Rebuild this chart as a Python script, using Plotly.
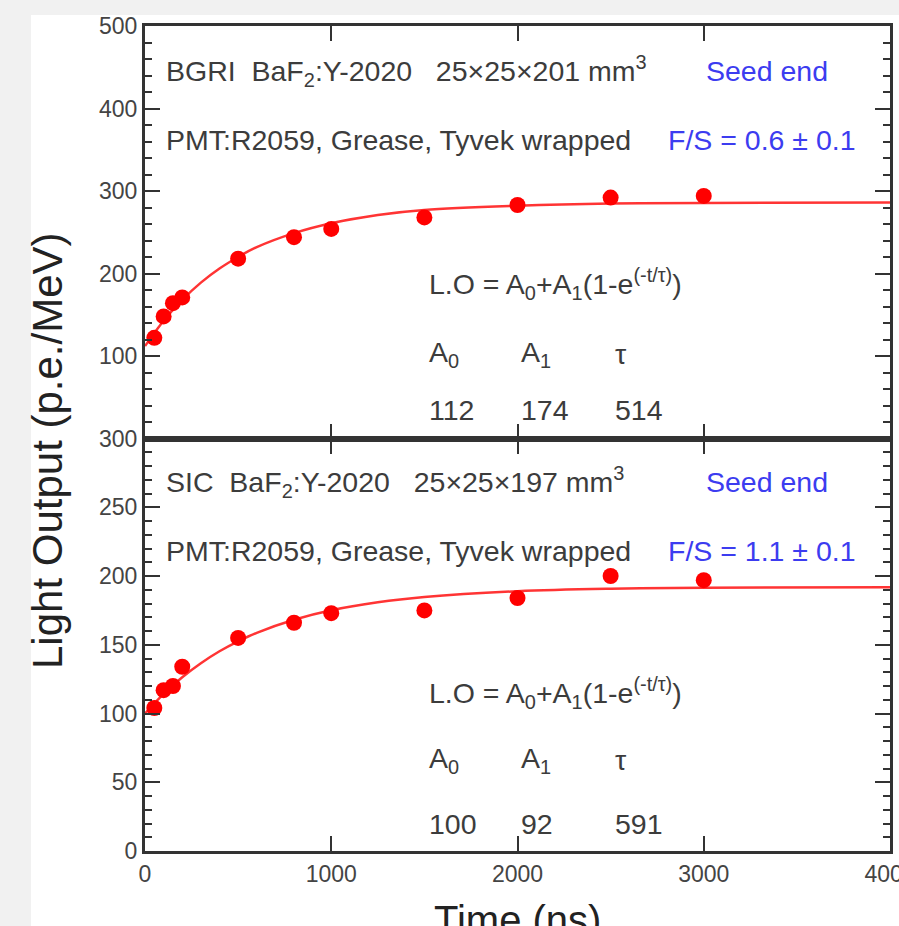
import plotly.graph_objects as go
from plotly.subplots import make_subplots

# ---- data ----
time_ns = [50, 100, 150, 200, 500, 800, 1000, 1500, 2000, 2500, 3000]
bgri_lo = [122, 148, 164, 171, 218, 244, 254, 268, 283, 292, 294]
sic_lo = [104, 117, 120, 134, 155, 166, 173, 175, 184, 200, 197]

fit_t = [0, 100, 200, 300, 400, 500, 600, 800, 1000, 1250, 1500, 2000, 2500, 3000, 4000]
bgri_fit = [112, 142.8, 168, 188.9, 206, 220, 232, 249, 261, 271, 277, 282, 284.7, 285.5, 286]
sic_fit = [100, 114.3, 126.4, 136.6, 145.3, 152.5, 158.7, 168.2, 175.1, 180.9, 184.7, 188.9, 190.7, 191.4, 191.9]

x_ticks = [0, 1000, 2000, 3000, 4000]
top_y_ticks = [100, 200, 300, 400, 500]
bot_y_ticks = [0, 50, 100, 150, 200, 250, 300]

top_params = ["112", "174", "514"]
bot_params = ["100", "92", "591"]

FONT = "Arial, Liberation Sans, sans-serif"
TXT = "#3c3c3c"
BLUE = "#3c3cf0"
RED = "#ff0000"
TS = 28.5

fig = make_subplots(rows=2, cols=1, shared_xaxes=True, vertical_spacing=0)

line_style = dict(color="rgba(255,30,30,0.9)", width=2.5, shape="spline")
fig.add_trace(go.Scatter(x=fit_t, y=bgri_fit, mode="lines", line=line_style, showlegend=False), row=1, col=1)
fig.add_trace(go.Scatter(x=time_ns, y=bgri_lo, mode="markers", marker=dict(color=RED, size=16), showlegend=False), row=1, col=1)
fig.add_trace(go.Scatter(x=fit_t, y=sic_fit, mode="lines", line=line_style, showlegend=False), row=2, col=1)
fig.add_trace(go.Scatter(x=time_ns, y=sic_lo, mode="markers", marker=dict(color=RED, size=16), showlegend=False), row=2, col=1)

axis_common = dict(showline=True, linewidth=3, linecolor="#333333", mirror="allticks",
                   ticks="inside", ticklen=15, tickwidth=2, tickcolor="#333333",
                   showgrid=False, zeroline=False, ticklabeloverflow="allow", automargin=False,
                   tickfont=dict(family=FONT, size=23, color="#444444"))

fig.update_xaxes(range=[0, 4000], tickvals=x_ticks, **axis_common)
fig.update_xaxes(showticklabels=False, row=1, col=1)
fig.update_yaxes(range=[0, 500], tickvals=top_y_ticks,
                 minor=dict(dtick=20, ticks="inside", ticklen=7, tickwidth=2, tickcolor="#333333"),
                 row=1, col=1, **axis_common)
fig.update_yaxes(range=[0, 300], tickvals=bot_y_ticks,
                 minor=dict(dtick=10, ticks="inside", ticklen=7, tickwidth=2, tickcolor="#333333"),
                 row=2, col=1, **axis_common)

ann = []
def txt(x, y, s, yref, color=TXT, size=TS):
    ann.append(dict(x=x, y=y, xref="x", yref=yref, text=s, showarrow=False,
                    xanchor="left", yanchor="middle",
                    font=dict(family=FONT, size=size, color=color)))

# top panel
txt(100, 446, "BGRI  BaF<sub>2</sub>:Y-2020   25×25×201 mm<sup>3</sup>", "y")
txt(3000, 446, "Seed end", "y", BLUE)
txt(100, 362, "PMT:R2059, Grease, Tyvek wrapped", "y")
txt(2795, 362, "F/S = 0.6 ± 0.1", "y", BLUE)
txt(1515, 187, "L.O = A<sub>0</sub>+A<sub>1</sub>(1-e<sup>(-t/τ)</sup>)", "y")
txt(1515, 103, "A<sub>0</sub>", "y")
txt(2010, 103, "A<sub>1</sub>", "y")
txt(2515, 103, "τ", "y")
for xv, s in zip([1515, 2010, 2515], top_params):
    txt(xv, 34, s, "y")

# bottom panel
txt(100, 268.6, "SIC  BaF<sub>2</sub>:Y-2020   25×25×197 mm<sup>3</sup>", "y2")
txt(3000, 268.6, "Seed end", "y2", BLUE)
txt(100, 218, "PMT:R2059, Grease, Tyvek wrapped", "y2")
txt(2795, 218, "F/S = 1.1 ± 0.1", "y2", BLUE)
txt(1515, 115, "L.O = A<sub>0</sub>+A<sub>1</sub>(1-e<sup>(-t/τ)</sup>)", "y2")
txt(1515, 66, "A<sub>0</sub>", "y2")
txt(2010, 66, "A<sub>1</sub>", "y2")
txt(2515, 66, "τ", "y2")
for xv, s in zip([1515, 2010, 2515], bot_params):
    txt(xv, 20, s, "y2")

# axis titles
ann.append(dict(x=-0.130, y=0.485, xref="paper", yref="paper", text="Light Output (p.e./MeV)",
                textangle=-90, showarrow=False, xanchor="center", yanchor="middle",
                font=dict(family=FONT, size=42, color="#222222")))
ann.append(dict(x=0.5, y=-0.0545, xref="paper", yref="paper", text="Time (ns)",
                showarrow=False, xanchor="center", yanchor="top",
                font=dict(family=FONT, size=40, color="#222222")))

shapes = [
    dict(type="rect", xref="paper", yref="paper", x0=-0.2, x1=-0.153, y0=-0.2, y1=1.1,
         fillcolor="#f1f1f1", line=dict(width=0), layer="below"),
    dict(type="rect", xref="paper", yref="paper", x0=-0.2, x1=1.1, y0=1.0133, y1=1.1,
         fillcolor="#f1f1f1", line=dict(width=0), layer="below"),
]

fig.update_layout(width=899, height=926, margin=dict(l=145, r=9, t=26, b=75, autoexpand=False),
                  paper_bgcolor="white", plot_bgcolor="white",
                  annotations=ann, shapes=shapes, showlegend=False)

fig.write_html("out.html", config={"displayModeBar": False},
               post_script="document.body.style.margin='0';document.body.style.overflow='hidden';")
